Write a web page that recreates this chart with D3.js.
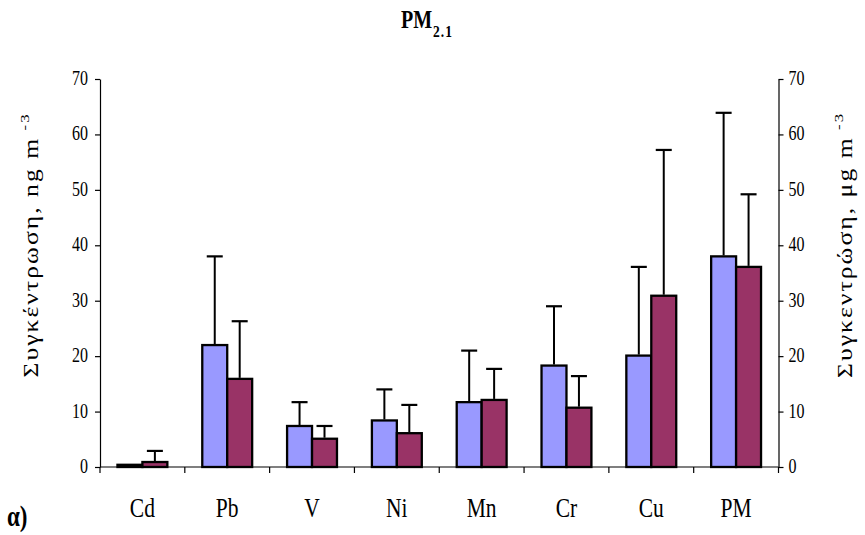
<!DOCTYPE html>
<html>
<head>
<meta charset="utf-8">
<script src="https://cdn.jsdelivr.net/npm/d3@7"></script>
<style>
  body { margin: 0; background: #fff; }
  text { font-family: 'Liberation Serif', 'Times New Roman', serif; fill: #000; }
</style>
</head>
<body>
<div id="chart"></div>
<script>
// chart values
const elements = ['Cd', 'Pb', 'V', 'Ni', 'Mn', 'Cr', 'Cu', 'PM'];
const seriesNames = ['a', 'b'];
const valuesA = [0.4, 22.0, 7.4, 8.4, 11.7, 18.3, 20.1, 38.0];
const errorsA = [0, 16.0, 4.3, 5.6, 9.3, 10.7, 16.0, 25.9];
const valuesB = [0.9, 15.9, 5.1, 6.1, 12.1, 10.7, 30.9, 36.1];
const errorsB = [2.0, 10.4, 2.3, 5.1, 5.6, 5.7, 26.3, 13.1];
const yTicks = [0, 10, 20, 30, 40, 50, 60, 70];

const width = 865;
const height = 535;
const margins = { top: 79, bottom: 68, left: 100, right: 86.5 };
const colors = { a: '#9999FF', b: '#993366' };
const stretch = 1.28; // the original text is drawn taller than wide

const svg = d3.select('#chart')
  .append('svg')
  .attr('width', width)
  .attr('height', height);

const yScale = d3.scaleLinear()
  .domain([0, 70])
  .range([height - margins.bottom, margins.top]);

const xScale = d3.scaleBand()
  .domain(elements)
  .range([margins.left, width - margins.right]);

const xInner = d3.scaleBand()
  .domain(seriesNames)
  .range([0, xScale.bandwidth()])
  .paddingOuter(0.7);

const rows = elements.map(function(e, i) {
  return [
    { el: e, s: 'a', v: valuesA[i], err: errorsA[i] },
    { el: e, s: 'b', v: valuesB[i], err: errorsB[i] }
  ];
});

// left axis
const yLeft = svg.append('g')
  .attr('transform', 'translate(' + margins.left + ',0)')
  .call(d3.axisLeft(yScale).tickValues(yTicks).tickSize(5).tickSizeOuter(0).tickPadding(7));

// right axis
const yRight = svg.append('g')
  .attr('transform', 'translate(' + (width - margins.right) + ',0)')
  .call(d3.axisRight(yScale).tickValues(yTicks).tickSize(5).tickSizeOuter(0).tickPadding(5));

[yLeft, yRight].forEach(function(ax) {
  ax.select('.domain').attr('stroke', '#000').attr('stroke-width', 1.2);
  ax.selectAll('.tick line').attr('stroke', '#000').attr('stroke-width', 1.2);
  ax.selectAll('.tick text')
    .attr('font-family', null)
    .attr('dy', null)
    .attr('y', null)
    .attr('font-size', 16)
    .attr('transform', 'translate(0,5.5) scale(1,' + stretch + ')');
});

// x baseline and category ticks
const xAxisG = svg.append('g');
xAxisG.append('line')
  .attr('x1', margins.left)
  .attr('x2', width - margins.right)
  .attr('y1', yScale(0))
  .attr('y2', yScale(0))
  .attr('stroke', '#000')
  .attr('stroke-width', 1.2);

const boundaries = elements.map(function(e) { return xScale(e); }).concat([width - margins.right]);
xAxisG.selectAll('line.xtick')
  .data(boundaries)
  .enter()
  .append('line')
  .attr('class', 'xtick')
  .attr('x1', function(d) { return d; })
  .attr('x2', function(d) { return d; })
  .attr('y1', yScale(0))
  .attr('y2', yScale(0) + 6)
  .attr('stroke', '#000')
  .attr('stroke-width', 1.2);

xAxisG.selectAll('text.cat')
  .data(elements)
  .enter()
  .append('text')
  .attr('class', 'cat')
  .attr('text-anchor', 'middle')
  .attr('font-size', 21.5)
  .attr('transform', function(d) {
    return 'translate(' + (xScale(d) + xScale.bandwidth() / 2) + ',517) scale(1,' + stretch + ')';
  })
  .text(function(d) { return d; });

// bars
const groups = svg.selectAll('g.group')
  .data(rows)
  .enter()
  .append('g')
  .attr('class', 'group')
  .attr('transform', function(d) { return 'translate(' + xScale(d[0].el) + ',0)'; });

groups.selectAll('rect')
  .data(function(d) { return d; })
  .enter()
  .append('rect')
  .attr('x', function(d) { return xInner(d.s); })
  .attr('width', xInner.bandwidth())
  .attr('y', function(d) { return yScale(d.v); })
  .attr('height', function(d) { return yScale(0) - yScale(d.v); })
  .attr('fill', function(d) { return colors[d.s]; })
  .attr('stroke', '#000')
  .attr('stroke-width', 2.3);

// upper error bars
const errs = groups.selectAll('g.err')
  .data(function(d) { return d.filter(function(p) { return p.err > 0; }); })
  .enter()
  .append('g')
  .attr('class', 'err');

errs.append('line')
  .attr('x1', function(d) { return xInner(d.s) + xInner.bandwidth() / 2; })
  .attr('x2', function(d) { return xInner(d.s) + xInner.bandwidth() / 2; })
  .attr('y1', function(d) { return yScale(d.v) - 1; })
  .attr('y2', function(d) { return yScale(d.v + d.err); })
  .attr('stroke', '#000')
  .attr('stroke-width', 2);

errs.append('line')
  .attr('x1', function(d) { return xInner(d.s) + xInner.bandwidth() / 2 - 8; })
  .attr('x2', function(d) { return xInner(d.s) + xInner.bandwidth() / 2 + 8; })
  .attr('y1', function(d) { return yScale(d.v + d.err); })
  .attr('y2', function(d) { return yScale(d.v + d.err); })
  .attr('stroke', '#000')
  .attr('stroke-width', 2.2);

// title
const title = svg.append('text')
  .attr('font-weight', 'bold')
  .attr('transform', 'translate(401,28) scale(1,' + stretch + ')');
title.append('tspan').attr('font-size', 20).text('PM');
title.append('tspan')
  .attr('font-size', 13.5)
  .attr('dy', 7)
  .attr('dx', 1)
  .attr('letter-spacing', 1)
  .text('2.1');

// panel mark
svg.append('text')
  .attr('font-weight', 'bold')
  .attr('font-size', 23)
  .attr('transform', 'translate(7,526) scale(1,' + stretch + ')')
  .text('α)');

// axis titles
function axisTitle(x, main) {
  const t = svg.append('text')
    .attr('text-anchor', 'middle')
    .attr('font-size', 20)
    .attr('letter-spacing', 1.6)
    .attr('transform', 'translate(' + x + ',245) rotate(-90) scale(' + stretch + ',1)');
  t.append('tspan').text(main);
  t.append('tspan')
    .attr('font-size', 13)
    .attr('dx', 5)
    .attr('dy', -9)
    .text('-3');
}
axisTitle(38, 'Συγκέντρωση, ng m');
axisTitle(852, 'Συγκεντρώση, μg m');
</script>
</body>
</html>
